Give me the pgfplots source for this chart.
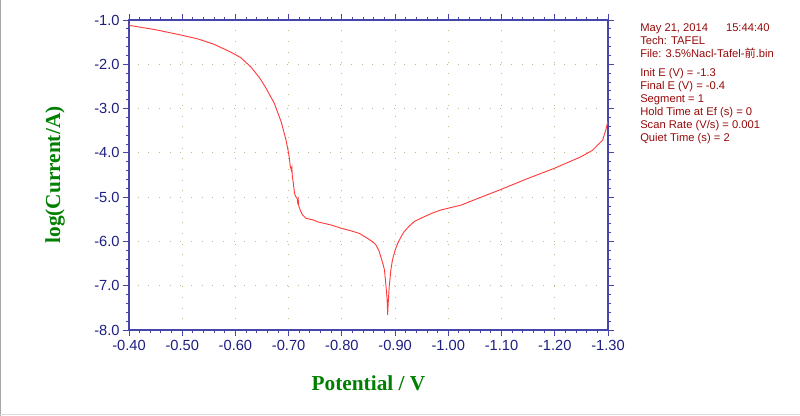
\documentclass[border=0pt]{standalone}
\usepackage{pgfplots}
\pgfplotsset{compat=1.18}
\usepackage{fontspec}
\setmainfont{Liberation Sans}
\newfontfamily\timesbf{Liberation Serif}
\newfontfamily\cjk{Noto Sans CJK SC}
\definecolor{axblue}{RGB}{70,70,170}
\definecolor{lblblue}{RGB}{30,30,130}
\definecolor{gridc}{RGB}{190,190,130}
\definecolor{curve}{RGB}{255,60,60}
\definecolor{lblgreen}{RGB}{0,128,0}
\definecolor{txtred}{RGB}{150,10,10}
\begin{document}
\begin{tikzpicture}
\path[use as bounding box] (0,0) rectangle (600pt,312pt);
\draw[gray!70, line width=1pt] (0.5pt,0) -- (0.5pt,312pt);
\draw[gray!30, line width=1pt] (0,1.2pt) -- (600pt,1.2pt);
\begin{axis}[
  at={(96.75pt,64.5pt)}, anchor=south west,
  scale only axis, width=359.25pt, height=232.5pt,
  x dir=reverse,
  xmin=-1.3, xmax=-0.4, ymin=-8, ymax=-1,
  xtick={-1.3,-1.2,-1.1,-1.0,-0.9,-0.8,-0.7,-0.6,-0.5,-0.4},
  xticklabels={-1.30,-1.20,-1.10,-1.00,-0.90,-0.80,-0.70,-0.60,-0.50,-0.40},
  ytick={-8,-7,-6,-5,-4,-3,-2,-1},
  yticklabels={-8.0,-7.0,-6.0,-5.0,-4.0,-3.0,-2.0,-1.0},
  minor x tick num=4, minor y tick num=4,
  tick align=outside,
  major tick length=4.5pt, minor tick length=2.5pt,
  axis line style={axblue, line width=0.9pt},
  every tick/.style={axblue, line width=0.7pt},
  tick label style={font=\fontsize{11pt}{13pt}\selectfont, text=lblblue},
  xticklabel style={yshift=0pt},
  yticklabel style={xshift=1pt},
  grid=major,
  major grid style={gridc, line width=0.8pt, dash pattern=on 0.8pt off 7.2pt},
  xlabel={\timesbf\bfseries Potential / V},
  ylabel={\timesbf\bfseries log(Current/A)},
  xlabel style={at={(axis description cs:0.5,-0.171)}, anchor=center, text=lblgreen, font=\fontsize{16pt}{18pt}\selectfont},
  ylabel style={at={(axis description cs:-0.1545,0.5)}, anchor=center, rotate=0, text=lblgreen, font=\fontsize{16pt}{18pt}\selectfont},
  clip=true,
]
\addplot[curve, line width=0.7pt] coordinates {
(-0.400,-1.12) (-0.450,-1.22) (-0.498,-1.34) (-0.530,-1.43) (-0.560,-1.55)
(-0.592,-1.73) (-0.610,-1.85) (-0.629,-2.06) (-0.645,-2.30) (-0.657,-2.53)
(-0.673,-2.88) (-0.686,-3.30) (-0.695,-3.71) (-0.699,-3.95) (-0.701,-4.09)
(-0.703,-4.30) (-0.705,-4.39) (-0.706,-4.33) (-0.707,-4.55) (-0.708,-4.61)
(-0.711,-4.91) (-0.713,-4.98) (-0.716,-5.03) (-0.717,-5.12) (-0.718,-5.06)
(-0.719,-5.20) (-0.722,-5.30) (-0.726,-5.40) (-0.733,-5.48) (-0.745,-5.51)
(-0.755,-5.56) (-0.780,-5.63) (-0.798,-5.70) (-0.817,-5.76) (-0.833,-5.82)
(-0.848,-5.93) (-0.858,-6.01) (-0.864,-6.08) (-0.870,-6.22) (-0.873,-6.34)
(-0.877,-6.50) (-0.880,-6.64) (-0.883,-7.02) (-0.885,-7.30) (-0.886,-7.66)
(-0.887,-7.40) (-0.889,-7.02) (-0.892,-6.65) (-0.895,-6.42) (-0.900,-6.20)
(-0.905,-6.04) (-0.911,-5.90) (-0.917,-5.78) (-0.926,-5.66) (-0.936,-5.55)
(-0.955,-5.44) (-0.970,-5.36) (-0.986,-5.29) (-1.024,-5.18) (-1.049,-5.06)
(-1.096,-4.84) (-1.149,-4.58) (-1.199,-4.35) (-1.249,-4.09) (-1.270,-3.95)
(-1.281,-3.82) (-1.290,-3.71) (-1.296,-3.48) (-1.300,-3.28)
};
\end{axis}
\begin{scope}[every node/.style={anchor=base west, inner sep=0pt, text=txtred, font=\fontsize{8.4pt}{10pt}\selectfont}]
\node at (480pt,{312pt-0.75pt*32}) {May 21, 2014\hspace{1.6em}15:44:40};
\node at (480pt,{312pt-0.75pt*45}) {Tech: TAFEL};
\node at (480pt,{312pt-0.75pt*58}) {File: 3.5\%Nacl-Tafel-{\cjk 前}.bin};
\node at (480pt,{312pt-0.75pt*77}) {Init E (V) = -1.3};
\node at (480pt,{312pt-0.75pt*90}) {Final E (V) = -0.4};
\node at (480pt,{312pt-0.75pt*103}) {Segment = 1};
\node at (480pt,{312pt-0.75pt*116}) {Hold Time at Ef (s) = 0};
\node at (480pt,{312pt-0.75pt*129}) {Scan Rate (V/s) = 0.001};
\node at (480pt,{312pt-0.75pt*142}) {Quiet Time (s) = 2};
\end{scope}
\end{tikzpicture}
\end{document}
